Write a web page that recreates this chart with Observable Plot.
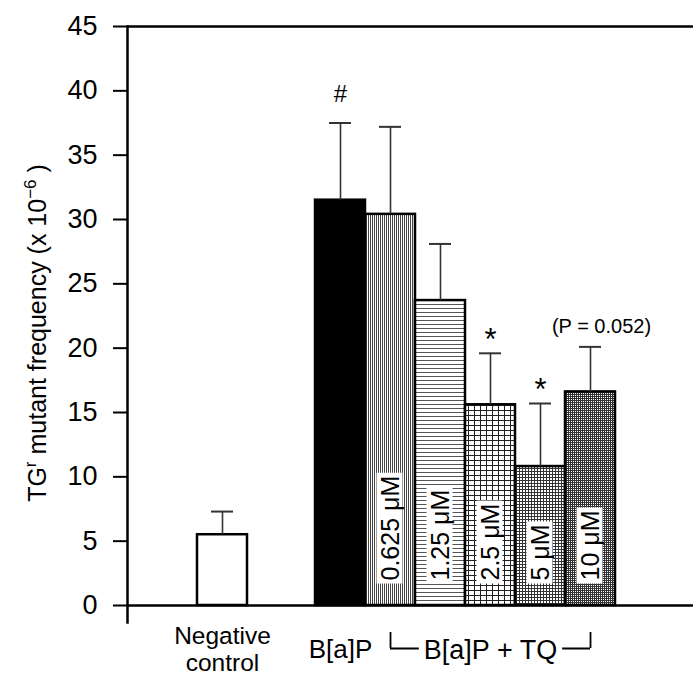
<!DOCTYPE html>
<html><head><meta charset="utf-8">
<script src="https://cdn.jsdelivr.net/npm/d3@7"></script>
<script src="https://cdn.jsdelivr.net/npm/@observablehq/plot@0.6"></script>
<style>
body{margin:0;background:#fff;}
#chart svg{overflow:visible;display:block;}
</style>
</head><body><div id="chart"></div>
<script>
// ---- data ----
const groups = ["Negative control", "B[a]P", "0.625 μM", "1.25 μM", "2.5 μM", "5 μM", "10 μM"];
const means  = [5.5, 31.5, 30.4, 23.7, 15.6, 10.8, 16.6];
const errors = [1.8, 6.0, 6.8, 4.4, 4.0, 4.9, 3.5];
const signif = ["", "#", "", "", "*", "*", "(P = 0.052)"];
const xLabels = ["Negative\ncontrol", "B[a]P"];
const groupLabel = "B[a]P + TQ";
const yTicks = [0, 5, 10, 15, 20, 25, 30, 35, 40, 45];

// ---- styles ----
const fills = {
  "Negative control": "white",
  "B[a]P": "black",
  "0.625 μM": "url(#pat-v)",
  "1.25 μM": "url(#pat-h)",
  "2.5 μM": "url(#pat-g1)",
  "5 μM": "url(#pat-g2)",
  "10 μM": "url(#pat-g3)"
};
const FONT = "'Liberation Sans', Arial, Helvetica, sans-serif";
const ncShift = -18;

const data = groups.map((g, i) => ({group: g, mean: means[i], err: errors[i], mark: signif[i]}));
const isNC = d => d.group === groups[0];
const notNC = d => !isNC(d);
const doseGroups = groups.slice(2);
const doses = d => doseGroups.includes(d.group);

function barMarks(filter, dx) {
  return [
    Plot.barY(data, {filter, x: "group", y: "mean", fill: d => fills[d.group], stroke: "black", strokeWidth: 2.5, dx}),
    Plot.ruleX(data, {filter, x: "group", y1: "mean", y2: d => d.mean + d.err, stroke: "#333", strokeWidth: 1.6, dx}),
    Plot.tickY(data, {filter, x: "group", y: d => d.mean + d.err, insetLeft: 14, insetRight: 14, stroke: "#333", strokeWidth: 2, dx})
  ];
}

const chart = Plot.plot({
  width: 693,
  height: 675,
  marginLeft: 127,
  marginRight: 0,
  marginTop: 26,
  marginBottom: 70,
  style: {fontFamily: FONT, fontSize: "24px", color: "black", background: "white", overflow: "visible"},
  x: {domain: [groups[0], "gap", ...groups.slice(1)], paddingInner: 0, paddingOuter: 1.66, align: 0.53, axis: null},
  y: {domain: [0, 45], axis: null},
  color: {type: "identity"},
  marks: [
    ...barMarks(isNC, ncShift),
    ...barMarks(notNC, 0),
    // dose labels inside bars
    Plot.text(data, {filter: doses, x: "group", y: () => 0, text: "group", rotate: -90, textAnchor: "start", lineAnchor: "middle", dy: -25, fontSize: 25, fill: "black"}),
    // significance marks
    Plot.text(data, {filter: d => d.mark === "#", x: "group", y: d => d.mean + d.err, text: "mark", lineAnchor: "bottom", dy: -21, fontSize: 24}),
    Plot.text(data, {filter: d => d.mark === "*", x: "group", y: d => d.mean + d.err, text: "mark", lineAnchor: "bottom", dy: -3, fontSize: 31}),
    Plot.text(data, {filter: d => d.mark.startsWith("("), x: "group", y: d => d.mean + d.err, text: "mark", lineAnchor: "bottom", dy: -14, dx: 11, fontSize: 20}),
    // axes lines
    Plot.ruleY([0, 45], {stroke: "black", strokeWidth: 2.5}),
    Plot.frame({anchor: "left", insetBottom: -17, stroke: "black", strokeWidth: 2.5}),
    Plot.axisY({ticks: yTicks, tickSize: 14, tickPadding: 16, fontSize: 27, strokeWidth: 2, label: null}),
    // x labels
    Plot.text([xLabels[0]], {x: () => groups[0], y: () => 0, text: d => d, dx: ncShift, dy: 20, lineAnchor: "top", lineHeight: 1.08, fontSize: 24.5}),
    Plot.text([xLabels[1]], {x: () => groups[1], y: () => 0, text: d => d, dy: 34, lineAnchor: "top", fontSize: 26}),
    // bracket
    Plot.ruleY([0], {x1: () => groups[2], x2: () => groups[6], insetLeft: 25, insetRight: 25, dy: 43, stroke: "black", strokeWidth: 1.8}),
    Plot.ruleX([groups[2], groups[6]], {x: d => d, y1: () => 0, y2: () => 0, insetTop: 27, insetBottom: -43, stroke: "black", strokeWidth: 1.8}),
    Plot.text([groupLabel], {x: () => groups[4], y: () => 0, text: d => d, dy: 34, lineAnchor: "top", fontSize: 27, fill: "black"})
  ]
});

document.getElementById("chart").append(chart);
const svg = d3.select(chart);

// patterns
const defs = svg.insert("defs", ":first-child");
function pattern(id, w, h, draw) {
  const p = defs.append("pattern").attr("id", id).attr("patternUnits", "userSpaceOnUse")
    .attr("width", w).attr("height", h);
  p.append("rect").attr("width", w).attr("height", h).attr("fill", "white");
  draw(p);
}
pattern("pat-v", 2, 2, p => p.append("rect").attr("width", 1).attr("height", 2).attr("fill", "#444"));
pattern("pat-h", 4, 4, p => p.append("rect").attr("width", 4).attr("height", 1).attr("fill", "#555"));
pattern("pat-g1", 6, 5, p => {
  p.append("rect").attr("width", 1).attr("height", 5).attr("fill", "#222");
  p.append("rect").attr("width", 6).attr("height", 1).attr("fill", "#222");
});
pattern("pat-g2", 3, 3, p => {
  p.append("rect").attr("width", 1).attr("height", 3).attr("fill", "#333");
  p.append("rect").attr("width", 3).attr("height", 1).attr("fill", "#333");
});
pattern("pat-g3", 2, 2, p => {
  p.append("rect").attr("width", 1).attr("height", 2).attr("fill", "#333");
  p.append("rect").attr("width", 2).attr("height", 1).attr("fill", "#333");
});

// white boxes behind texts
function boxBehind(node, padX, padY) {
  const b = node.getBBox();
  const r = document.createElementNS("http://www.w3.org/2000/svg", "rect");
  r.setAttribute("x", b.x - padX);
  r.setAttribute("y", b.y - padY);
  r.setAttribute("width", b.width + 2 * padX);
  r.setAttribute("height", b.height + 2 * padY);
  r.setAttribute("fill", "white");
  const t = node.getAttribute("transform");
  if (t) r.setAttribute("transform", t);
  node.parentNode.insertBefore(r, node);
}
svg.selectAll("text").filter(function() {
  return doseGroups.includes(this.textContent) &&
    ((this.getAttribute("transform") || "").includes("rotate") ||
     (this.parentNode.getAttribute("transform") || "").includes("rotate"));
}).each(function() { boxBehind(this, 3, -1); });
svg.selectAll("text").filter(function() { return this.textContent === groupLabel; })
  .each(function() { boxBehind(this, 5, -6); });

// y-axis title with superscripts
const yt = svg.append("text")
  .attr("transform", "translate(46,333) rotate(-90)")
  .attr("text-anchor", "middle")
  .attr("font-family", FONT)
  .attr("font-size", 25)
  .attr("fill", "black");
yt.append("tspan").text("TG");
yt.append("tspan").attr("font-size", 17).attr("dy", -10).text("r");
yt.append("tspan").attr("dy", 10).text(" mutant frequency (x 10");
yt.append("tspan").attr("font-size", 17).attr("dy", -10).text("−6");
yt.append("tspan").attr("dy", 10).text(" )");
</script>
</body></html>
